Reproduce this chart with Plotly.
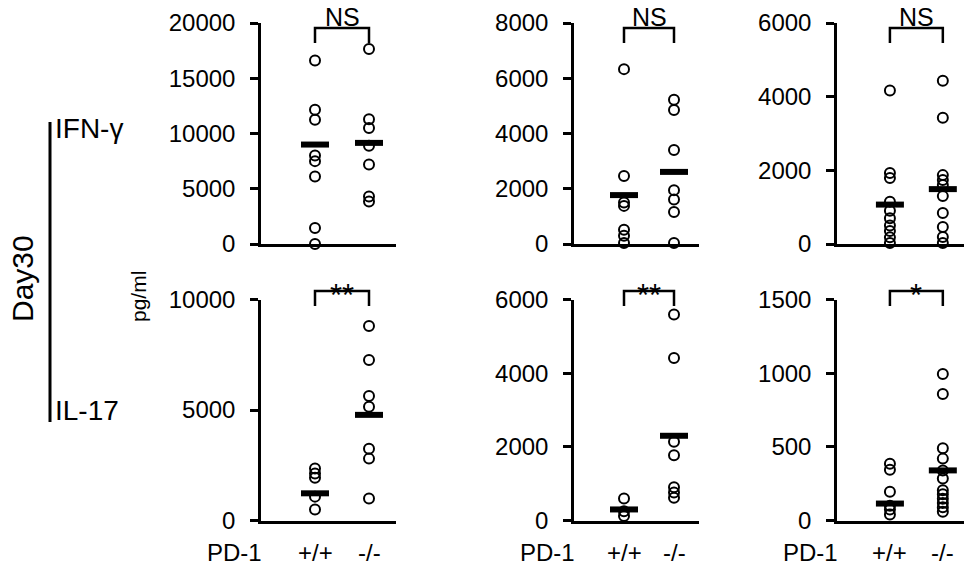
import plotly.graph_objects as go

W, H = 964, 568

# ---------------- data ----------------
groups = ["+/+", "-/-"]
genotype_label = "PD-1"
row_labels = ["IFN-γ", "IL-17"]
side_label = "Day30"
unit_label = "pg/ml"

# IFN-gamma (top row), three panels
ifng_a_wt = [16600, 12150, 11250, 8000, 7500, 6100, 1450, 0]
ifng_a_ko = [17650, 11300, 10500, 8900, 7200, 4300, 3850]
ifng_a_mean = [9000, 9150]

ifng_b_wt = [6330, 2460, 1500, 1380, 520, 300, 40]
ifng_b_ko = [5220, 4850, 3400, 1950, 1610, 1160, 40]
ifng_b_mean = [1770, 2610]

ifng_c_wt = [4170, 1930, 1790, 1150, 900, 700, 500, 350, 180, 30]
ifng_c_ko = [4430, 3430, 1870, 1740, 1600, 1300, 840, 460, 190, 30]
ifng_c_mean = [1070, 1490]

# IL-17 (bottom row), three panels
il17_a_wt = [2350, 2130, 1930, 1080, 500]
il17_a_ko = [8800, 7260, 5630, 5150, 3250, 2800, 1000]
il17_a_mean = [1230, 4780]

il17_b_wt = [600, 250, 120]
il17_b_ko = [5590, 4410, 2140, 1770, 900, 760, 620]
il17_b_mean = [300, 2300]

il17_c_wt = [385, 345, 195, 100, 75, 40]
il17_c_ko = [995, 858, 490, 420, 340, 285, 205, 178, 148, 119, 90, 60]
il17_c_mean = [115, 340]

significance = [["NS", "NS", "NS"], ["**", "**", "*"]]

y_max = [[20000, 8000, 6000], [10000, 6000, 1500]]
y_step = [[5000, 2000, 2000], [5000, 2000, 500]]

panels = [
    [(ifng_a_wt, ifng_a_ko, ifng_a_mean), (ifng_b_wt, ifng_b_ko, ifng_b_mean), (ifng_c_wt, ifng_c_ko, ifng_c_mean)],
    [(il17_a_wt, il17_a_ko, il17_a_mean), (il17_b_wt, il17_b_ko, il17_b_mean), (il17_c_wt, il17_c_ko, il17_c_mean)],
]

# ---------------- layout geometry (pixels) ----------------
col_px = [(261, 396), (574, 699), (837, 964)]
col_xmax = [2.5, 2.5, 2.4]
row_px = [(23, 244), (299.5, 520.5)]

FONT = "Liberation Sans, Arial, sans-serif"
fig = go.Figure()
layout = dict(
    template="none",
    width=W, height=H, margin=dict(l=0, r=0, t=0, b=0, autoexpand=False),
    plot_bgcolor="white", paper_bgcolor="white", showlegend=False,
    font=dict(family=FONT, color="black", size=24),
)
shapes = []
annotations = []

def px2x(p):
    return p / W

def px2y(p):
    return 1 - p / H

def txt(size=24):
    return dict(size=size, family=FONT, color="black")

k = 0
for r in range(2):
    for c in range(3):
        k += 1
        xa = "x" if k == 1 else f"x{k}"
        ya = "y" if k == 1 else f"y{k}"
        wt, ko, mean = panels[r][c]
        # individual points
        fig.add_trace(go.Scatter(
            x=[1] * len(wt) + [2] * len(ko), y=wt + ko, mode="markers",
            marker=dict(symbol="circle-open", size=10, color="black",
                        line=dict(width=2, color="black")),
            xaxis=xa, yaxis=ya, cliponaxis=False, hoverinfo="y"))
        # mean bars
        fig.add_trace(go.Scatter(
            x=[1, 2], y=mean, mode="markers",
            marker=dict(symbol="line-ew", size=20, color="black",
                        line=dict(width=6, color="black")),
            xaxis=xa, yaxis=ya, cliponaxis=False, hoverinfo="y"))
        x0, x1 = col_px[c]
        y0, y1 = row_px[r]
        ticks = list(range(0, y_max[r][c] + 1, y_step[r][c]))
        layout["xaxis" if k == 1 else f"xaxis{k}"] = dict(
            domain=[px2x(x0), px2x(x1)], range=[0, col_xmax[c]], anchor=ya,
            showline=True, linewidth=2.5, linecolor="black", showgrid=False,
            zeroline=False, showticklabels=False, ticks="", automargin=False)
        layout["yaxis" if k == 1 else f"yaxis{k}"] = dict(
            domain=[px2y(y1), px2y(y0)], range=[0, y_max[r][c]], anchor=xa,
            showline=True, linewidth=2.5, linecolor="black", showgrid=False,
            zeroline=False, tickvals=ticks, ticktext=[str(t) for t in ticks],
            ticks="outside", ticklen=8, tickwidth=2.5, tickcolor="black",
            ticklabelstandoff=10, automargin=False, tickfont=txt(24))
        # significance bracket
        if r == 0:
            top, end, txt_y, fs = 0.977, 0.9095, 1.025, 25
        else:
            top, end, txt_y, fs = 1.038, 0.971, 1.02, 31
        shapes.append(dict(
            type="path", xref=xa, yref=f"{ya} domain",
            path=f"M 1 {end} L 1 {top} L 2 {top} L 2 {end}",
            line=dict(color="black", width=2.5)))
        annotations.append(dict(
            x=1.5, y=txt_y, xref=xa, yref=f"{ya} domain", text=significance[r][c],
            showarrow=False, xanchor="center", yanchor="middle", font=txt(fs)))
        if r == 1:
            for gi, g in enumerate(groups):
                annotations.append(dict(
                    x=gi + 1, y=px2y(552), xref=xa, yref="paper", text=g,
                    showarrow=False, xanchor="center", yanchor="middle", font=txt(24)))
            annotations.append(dict(
                x=px2x(x0 - 27), y=px2y(552), xref="paper", yref="paper",
                text=genotype_label, showarrow=False, xanchor="center",
                yanchor="middle", font=txt(24)))

# left-side labels
shapes.append(dict(type="line", xref="paper", yref="paper",
                   x0=px2x(50), x1=px2x(50), y0=px2y(122), y1=px2y(422),
                   line=dict(color="black", width=3)))
annotations.append(dict(x=px2x(22), y=px2y(279), xref="paper", yref="paper",
                        text=side_label, textangle=-90, showarrow=False,
                        xanchor="center", yanchor="middle", font=txt(30)))
annotations.append(dict(x=px2x(53), y=px2y(128), xref="paper", yref="paper",
                        text=row_labels[0], showarrow=False, xanchor="left",
                        yanchor="middle", font=txt(28)))
annotations.append(dict(x=px2x(53), y=px2y(410), xref="paper", yref="paper",
                        text=row_labels[1], showarrow=False, xanchor="left",
                        yanchor="middle", font=txt(28)))
annotations.append(dict(x=px2x(138), y=px2y(297), xref="paper", yref="paper",
                        text=unit_label, textangle=-90, showarrow=False,
                        xanchor="center", yanchor="middle", font=txt(21)))

layout["shapes"] = shapes
layout["annotations"] = annotations
fig.update_layout(**layout)
fig.write_html("out.html", config={"displayModeBar": False},
               post_script="document.body.style.margin='0px';")
